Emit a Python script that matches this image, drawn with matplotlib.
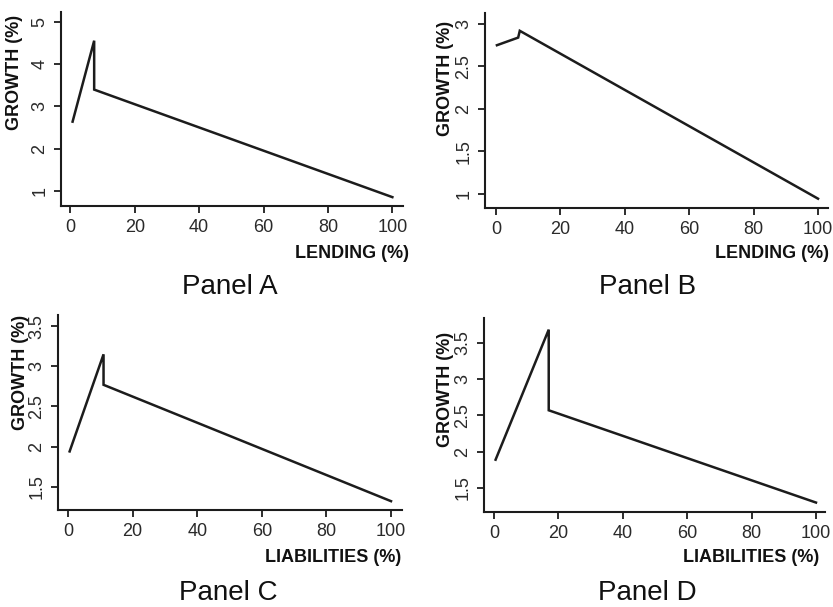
import matplotlib
matplotlib.use("Agg")
import matplotlib.pyplot as plt

plt.rcParams['font.family'] = ['Liberation Sans', 'DejaVu Sans']

W, H = 833, 607

# ---- data ----
a_x = [0.7, 7.4, 7.4, 100]
a_y = [2.64, 4.56, 3.40, 0.85]
b_x = [0.3, 6.9, 7.4, 100]
b_y = [2.75, 2.84, 2.92, 0.94]
c_x = [0.5, 11.0, 11.0, 100]
c_y = [1.94, 3.15, 2.77, 1.32]
d_x = [0.5, 17.0, 17.0, 100]
d_y = [1.89, 3.68, 2.57, 1.30]

x_ticks = [0, 20, 40, 60, 80, 100]
a_yticks = [1, 2, 3, 4, 5]
b_yticks = [1, 1.5, 2, 2.5, 3]
c_yticks = [1.5, 2, 2.5, 3, 3.5]
d_yticks = [1.5, 2, 2.5, 3, 3.5]

panels = [
    dict(x=a_x, y=a_y, yt=a_yticks, xlabel="LENDING (%)", title="Panel A",
         box=(61, 403, 12, 206), xlim=(-2.9, 103.3), ylim=(0.64, 5.24),
         ylab_xy=(15, 72), xlab_xy=(409, 253), title_xy=(230, 287)),
    dict(x=b_x, y=b_y, yt=b_yticks, xlabel="LENDING (%)", title="Panel B",
         box=(485, 828, 13, 208), xlim=(-3.4, 103.1), ylim=(0.83, 3.13),
         ylab_xy=(446, 78), xlab_xy=(829, 253), title_xy=(648, 287)),
    dict(x=c_x, y=c_y, yt=c_yticks, xlabel="LIABILITIES (%)", title="Panel C",
         box=(58, 402, 315, 510), xlim=(-3.1, 103.4), ylim=(1.21, 3.64),
         ylab_xy=(21, 372), xlab_xy=(401, 557), title_xy=(228, 593)),
    dict(x=d_x, y=d_y, yt=d_yticks, xlabel="LIABILITIES (%)", title="Panel D",
         box=(484, 825, 318, 512), xlim=(-3.1, 102.8), ylim=(1.17, 3.84),
         ylab_xy=(446, 389), xlab_xy=(819, 557), title_xy=(647, 593)),
]

fig = plt.figure(figsize=(W / 100, H / 100), dpi=100)
fig.patch.set_facecolor('white')

col = '#1c1c1c'
for p in panels:
    l, r, t, b = p['box']
    ax = fig.add_axes([l / W, 1 - b / H, (r - l) / W, (b - t) / H])
    ax.plot(p['x'], p['y'], color=col, lw=1.8, solid_joinstyle='miter')
    ax.set_xlim(*p['xlim'])
    ax.set_ylim(*p['ylim'])
    ax.set_xticks(x_ticks)
    ax.set_xticklabels([str(v) for v in x_ticks])
    ax.set_yticks(p['yt'])
    ax.set_yticklabels([('%g' % v) for v in p['yt']], rotation=90, va='center', ha='right')
    for s in ['top', 'right']:
        ax.spines[s].set_visible(False)
    for s in ['left', 'bottom']:
        ax.spines[s].set_linewidth(1.5)
        ax.spines[s].set_color(col)
    ax.tick_params(direction='out', length=5, width=1.3, color=col,
                   labelsize=13, labelcolor='#2a2a2a', pad=4)
    ax.set_facecolor('none')

    fig.text(p['ylab_xy'][0] / W, 1 - p['ylab_xy'][1] / H, "GROWTH (%)",
             rotation=90, ha='center', va='center', fontsize=13,
             fontweight='bold', color='#111111')
    fig.text(p['xlab_xy'][0] / W, 1 - p['xlab_xy'][1] / H, p['xlabel'],
             ha='right', va='center', fontsize=13, fontweight='bold',
             color='#111111')
    fig.text(p['title_xy'][0] / W, 1 - p['title_xy'][1] / H, p['title'],
             ha='center', va='center', fontsize=20, color='#111111')

fig.savefig('out.png', dpi=100, facecolor='white')
